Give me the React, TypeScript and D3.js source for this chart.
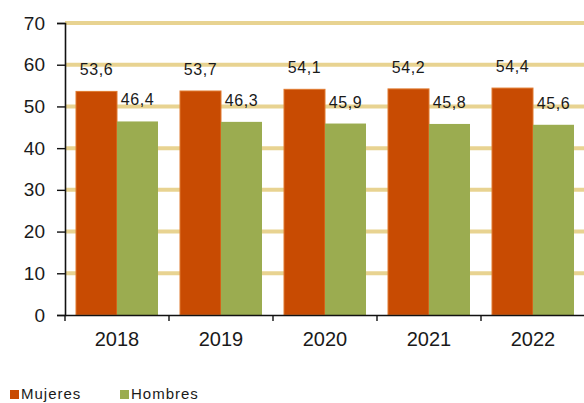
import * as d3 from 'd3';
import { useEffect, useRef } from 'react';

const years = ['2018', '2019', '2020', '2021', '2022'];
const mujeres = [53.6, 53.7, 54.1, 54.2, 54.4];
const hombres = [46.4, 46.3, 45.9, 45.8, 45.6];
const yTicks = [0, 10, 20, 30, 40, 50, 60, 70];
const seriesNames = ['Mujeres', 'Hombres'];

const colors: Record<string, string> = { Mujeres: '#c84b02', Hombres: '#9bac50' };

export default function App() {
  const ref = useRef<SVGSVGElement | null>(null);

  useEffect(() => {
    if (!ref.current) return;
    const svg = d3.select(ref.current);
    svg.selectAll('*').remove();

    const width = 584;
    const height = 403;
    const font = "'Liberation Sans', Arial, sans-serif";

    const x0 = d3.scaleBand<string>().domain(years).range([65, 585]).padding(0);
    const x1 = d3.scaleBand<string>().domain(seriesNames).range([11, 93]).padding(0);
    const y = d3.scaleLinear().domain([0, 70]).range([315, 23]);

    // gridlines
    svg
      .append('g')
      .selectAll('line')
      .data(yTicks.filter((t) => t > 0))
      .enter()
      .append('line')
      .attr('x1', 65)
      .attr('x2', width)
      .attr('y1', (d) => y(d))
      .attr('y2', (d) => y(d))
      .attr('stroke', '#e8d391')
      .attr('stroke-width', 4);

    const rows = years.map((yr, i) => ({
      year: yr,
      values: [
        { name: 'Mujeres', value: mujeres[i] },
        { name: 'Hombres', value: hombres[i] },
      ],
    }));

    const groups = svg
      .append('g')
      .selectAll('g')
      .data(rows)
      .enter()
      .append('g')
      .attr('transform', (d) => `translate(${x0(d.year)},0)`);

    groups
      .selectAll('rect')
      .data((d) => d.values)
      .enter()
      .append('rect')
      .attr('x', (d) => x1(d.name) || 0)
      .attr('y', (d) => y(d.value))
      .attr('width', x1.bandwidth())
      .attr('height', (d) => y(0) - y(d.value))
      .attr('fill', (d) => colors[d.name])
      .attr('stroke', (d) => (d.name === 'Mujeres' ? '#e07a30' : 'none'))
      .attr('stroke-width', 1);

    groups
      .selectAll('text')
      .data((d) => d.values)
      .enter()
      .append('text')
      .attr('x', (d) => (x1(d.name) || 0) + x1.bandwidth() / 2)
      .attr('y', (d) => y(d.value) - 16)
      .attr('text-anchor', 'middle')
      .style('font-family', font)
      .style('font-size', '16px')
      .style('letter-spacing', '0.6px')
      .attr('fill', '#1a1a1a')
      .text((d) => d3.format('.1f')(d.value).replace('.', ','));

    // y axis
    const yAxis = svg
      .append('g')
      .attr('transform', 'translate(65,0)')
      .call(d3.axisLeft(y).tickValues(yTicks).tickSize(8).tickPadding(12).tickFormat(d3.format('d')));
    yAxis.select('.domain').attr('stroke', '#111').attr('stroke-width', 1.6);
    yAxis.selectAll('.tick line').attr('stroke', '#111').attr('stroke-width', 1.4);
    yAxis
      .selectAll('text')
      .style('font-family', font)
      .style('font-size', '19px')
      .attr('fill', '#1a1a1a');

    // x axis
    const xAxis = svg
      .append('g')
      .attr('transform', 'translate(0,315)')
      .call(d3.axisBottom(x0).tickSize(0).tickPadding(17));
    xAxis.select('.domain').attr('stroke', '#111').attr('stroke-width', 1.6);
    xAxis
      .selectAll('text')
      .style('font-family', font)
      .style('font-size', '20px')
      .attr('fill', '#1a1a1a');
    // category separators
    xAxis
      .append('g')
      .selectAll('line')
      .data(years)
      .enter()
      .append('line')
      .attr('x1', (d) => (x0(d) || 0) + x0.step())
      .attr('x2', (d) => (x0(d) || 0) + x0.step())
      .attr('y1', 0)
      .attr('y2', 6)
      .attr('stroke', '#111')
      .attr('stroke-width', 1.4);
    xAxis
      .append('line')
      .attr('x1', 65)
      .attr('x2', 65)
      .attr('y1', 0)
      .attr('y2', 6)
      .attr('stroke', '#111')
      .attr('stroke-width', 1.4);

    // legend
    const legendX = [10, 120];
    const legend = svg.append('g');
    seriesNames.forEach((name, i) => {
      const g = legend.append('g').attr('transform', `translate(${legendX[i]}, 390)`);
      g.append('rect').attr('width', 9).attr('height', 9).attr('fill', colors[name]);
      g.append('text')
        .attr('x', 11)
        .attr('y', 9)
        .text(name)
        .style('font-family', font)
        .style('font-size', '15px')
        .style('letter-spacing', '1px')
        .attr('fill', '#1a1a1a');
    });

    svg.attr('width', width).attr('height', height);
  }, []);

  return (
    <svg
      ref={ref}
      width={584}
      height={403}
      style={{ position: 'absolute', left: 0, top: 0, background: '#fff' }}
    />
  );
}
